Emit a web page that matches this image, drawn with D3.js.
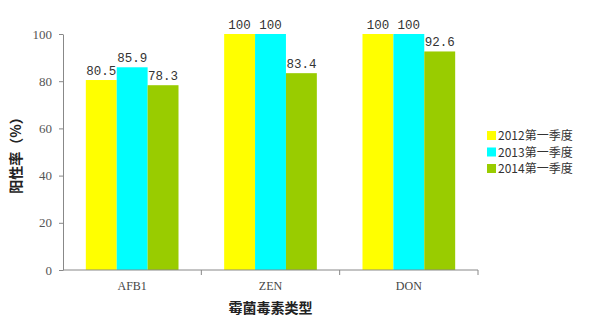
<!DOCTYPE html>
<html>
<head>
<meta charset="utf-8">
<script src="https://cdn.jsdelivr.net/npm/d3@7"></script>
<style>
body { margin:0; background:#fff; }
svg text { font-family: "Liberation Mono", "DejaVu Sans Mono", monospace; }
</style>
</head>
<body>
<div id="chart"></div>
<script>
var categories = ["AFB1", "ZEN", "DON"];
var seriesNames = ["2012第一季度", "2013第一季度", "2014第一季度"];
var seriesColors = ["#ffff00", "#00ffff", "#99cc00"];
var values2012 = [80.5, 100, 100];
var values2013 = [85.9, 100, 100];
var values2014 = [78.3, 83.4, 92.6];
var yTicks = [0, 20, 40, 60, 80, 100];

var allValues = [values2012, values2013, values2014];

var width = 590, height = 319;
var padding = {left:63, right:112, top:34, bottom:49};

var svg = d3.select("#chart").append("svg")
	.attr("width", width)
	.attr("height", height);

var xScale = d3.scaleBand()
	.domain(categories)
	.range([padding.left, width - padding.right])
	.paddingInner(0.33)
	.paddingOuter(0.165);

var bandScale = d3.scaleBand()
	.domain(seriesNames)
	.range([0, xScale.bandwidth()]);

var yScale = d3.scaleLinear()
	.domain([0, 100])
	.range([height - padding.bottom, padding.top]);

// bars
seriesNames.forEach(function(s, si){
	var g = svg.append("g").attr("class", "series");
	g.selectAll("rect")
		.data(allValues[si])
		.enter()
		.append("rect")
		.attr("x", function(d, i){ return xScale(categories[i]) + bandScale(s); })
		.attr("y", function(d){ return yScale(d); })
		.attr("width", bandScale.bandwidth())
		.attr("height", function(d){ return yScale(0) - yScale(d); })
		.attr("fill", seriesColors[si]);
	g.selectAll("text")
		.data(allValues[si])
		.enter()
		.append("text")
		.attr("x", function(d, i){ return xScale(categories[i]) + bandScale(s) + bandScale.bandwidth() / 2; })
		.attr("y", function(d){ return yScale(d) - 5; })
		.attr("text-anchor", "middle")
		.attr("font-size", 12.5)
		.attr("fill", "#333")
		.text(function(d){ return d; });
});

// y axis
var yAxis = d3.axisLeft(yScale)
	.tickValues(yTicks)
	.tickSizeInner(4)
	.tickSizeOuter(0)
	.tickPadding(7);
var yG = svg.append("g")
	.attr("transform", "translate(" + padding.left + ",0)")
	.call(yAxis);
yG.selectAll("path, line").attr("stroke", "#888");
yG.selectAll("text").attr("font-size", 13).attr("fill", "#555")
	.style("font-family", "'Liberation Serif', serif");

// x axis: ticks at category boundaries
var step = xScale.step();
var xG = svg.append("g")
	.attr("transform", "translate(0," + yScale(0) + ")");
xG.append("line")
	.attr("x1", padding.left).attr("x2", width - padding.right)
	.attr("stroke", "#888");
xG.selectAll(".tk")
	.data(categories)
	.enter()
	.append("line")
	.attr("x1", function(d){ return xScale(d) + xScale.bandwidth() + step * xScale.paddingInner() / 2; })
	.attr("x2", function(d){ return xScale(d) + xScale.bandwidth() + step * xScale.paddingInner() / 2; })
	.attr("y1", 0).attr("y2", 5)
	.attr("stroke", "#888");
xG.selectAll(".lbl")
	.data(categories)
	.enter()
	.append("text")
	.attr("x", function(d){ return xScale(d) + xScale.bandwidth() / 2; })
	.attr("y", 20)
	.attr("text-anchor", "middle")
	.attr("font-size", 12)
	.attr("fill", "#444")
	.style("font-family", "'Liberation Serif', serif")
	.text(function(d){ return d; });

// axis titles
svg.append("text")
	.attr("x", (padding.left + width - padding.right) / 2)
	.attr("y", 313)
	.attr("text-anchor", "middle")
	.attr("font-size", 14)
	.attr("font-weight", "bold")
	.attr("fill", "#222")
	.style("font-family", "'Noto Sans CJK SC', sans-serif")
	.text("霉菌毒素类型");

svg.append("text")
	.attr("transform", "translate(21," + ((padding.top + height - padding.bottom) / 2) + ") rotate(-90)")
	.attr("text-anchor", "middle")
	.attr("font-size", 14)
	.attr("font-weight", "bold")
	.attr("fill", "#222")
	.style("font-family", "'Noto Sans CJK SC', sans-serif")
	.text("阳性率（%）");

// legend
var legend = svg.append("g").attr("transform", "translate(487,131)");
seriesNames.forEach(function(s, i){
	legend.append("rect")
		.attr("x", 0).attr("y", i * 16.5)
		.attr("width", 9).attr("height", 9)
		.attr("fill", seriesColors[i]);
	legend.append("text")
		.attr("x", 11).attr("y", i * 16.5 + 9)
		.attr("font-size", 12)
		.attr("fill", "#333")
		.style("font-family", "'Noto Sans CJK SC', sans-serif")
		.text(s);
});
</script>
</body>
</html>
